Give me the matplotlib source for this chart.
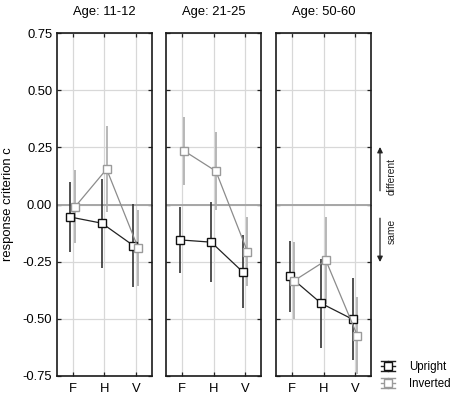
import matplotlib
matplotlib.use("Agg")
import matplotlib.pyplot as plt
import numpy as np
from matplotlib.legend_handler import HandlerBase
from matplotlib.lines import Line2D

plt.rcParams['font.family'] = ['Liberation Sans', 'DejaVu Sans']

ages = ['Age: 11-12', 'Age: 21-25', 'Age: 50-60']
conditions = ['F', 'H', 'V']
yticks = [-0.75, -0.50, -0.25, 0.00, 0.25, 0.50, 0.75]

upright_mean = [[-0.055, -0.082, -0.180],
                [-0.155, -0.165, -0.295],
                [-0.315, -0.433, -0.503]]
upright_ci = [[0.155, 0.195, 0.182],
              [0.143, 0.175, 0.160],
              [0.157, 0.195, 0.180]]
inverted_mean = [[-0.010, 0.155, -0.190],
                 [0.234, 0.146, -0.206],
                 [-0.333, -0.245, -0.575]]
inverted_ci = [[0.160, 0.190, 0.168],
               [0.148, 0.170, 0.150],
               [0.167, 0.190, 0.168]]

W, H = 454, 398
fig = plt.figure(figsize=(W / 100, H / 100), dpi=100)

lefts = [57, 166.3, 276.3]
pw = 94.5
top, bot = 33.3, 375.7
FS = 9.4
x = np.arange(len(conditions))
off = 0.075

axes = []
for i, age in enumerate(ages):
    ax = fig.add_axes([lefts[i] / W, 1 - bot / H, pw / W, (bot - top) / H])
    axes.append(ax)
    ax.set_xlim(-0.5, 2.5)
    ax.set_ylim(-0.75, 0.75)
    ax.set_xticks(x)
    ax.set_xticklabels(conditions, fontsize=FS)
    ax.set_yticks(yticks)
    if i == 0:
        ax.set_yticklabels(['%.2f' % v for v in yticks], fontsize=FS)
    else:
        ax.set_yticklabels([])
    ax.tick_params(direction='in', length=3, width=0.9, top=True, right=True,
                   color='#222222')
    ax.tick_params(axis='x', pad=5)
    ax.tick_params(axis='y', pad=3.5)
    ax.grid(True, color='#d8d8d8', lw=0.9)
    ax.set_axisbelow(True)
    ax.axhline(0, color='#a6a6a6', lw=1.4, zorder=1)
    for s in ax.spines.values():
        s.set_linewidth(1.2)
        s.set_color('#1a1a1a')
    ax.set_title(age, fontsize=FS, pad=13)

    um = np.array(upright_mean[i]); uc = np.array(upright_ci[i])
    im = np.array(inverted_mean[i]); ic = np.array(inverted_ci[i])
    ax.errorbar(x - off, um, yerr=uc, fmt='none', ecolor='#333333', elinewidth=1.2,
                capsize=0, zorder=3)
    ax.errorbar(x + off, im, yerr=ic, fmt='none', ecolor='#ababab', elinewidth=1.2,
                capsize=0, zorder=3)
    ax.plot(x - off, um, color='#222222', lw=0.9, marker='s', ms=5.6,
            mfc='white', mec='#111111', mew=1.0, zorder=4)
    ax.plot(x + off, im, color='#8c8c8c', lw=0.9, marker='s', ms=5.6,
            mfc='white', mec='#9a9a9a', mew=1.0, zorder=5)

axes[0].set_ylabel('response criterion c', fontsize=FS)
axes[0].yaxis.set_label_coords(-(57 - 14.5) / pw, 0.5)

# direction annotation
ax3 = axes[2]
tr = ax3.get_yaxis_transform()
xa = (380 - lefts[2]) / pw
xt = (392 - lefts[2]) / pw
ax3.annotate('', xy=(xa, 0.252), xytext=(xa, 0.06), xycoords=tr, textcoords=tr,
             arrowprops=dict(arrowstyle='-|>', color='#222222', lw=0.9,
                             mutation_scale=8, shrinkA=0, shrinkB=0),
             annotation_clip=False)
ax3.annotate('', xy=(xa, -0.252), xytext=(xa, -0.06), xycoords=tr, textcoords=tr,
             arrowprops=dict(arrowstyle='-|>', color='#222222', lw=0.9,
                             mutation_scale=8, shrinkA=0, shrinkB=0),
             annotation_clip=False)
ax3.text(xt, 0.123, 'different', transform=tr, rotation=90, fontsize=7.4,
         ha='center', va='center', color='#222222')
ax3.text(xt, -0.12, 'same', transform=tr, rotation=90, fontsize=7.4,
         ha='center', va='center', color='#222222')


class ErrHandler(HandlerBase):
    def create_artists(self, legend, orig_handle, xdescent, ydescent, width,
                       height, fontsize, trans):
        c = orig_handle.get_color()
        mec = orig_handle.get_markeredgecolor()
        x0, x1 = -xdescent, -xdescent + width
        y0, y1 = -ydescent, -ydescent + height
        ym = (y0 + y1) / 2
        xm = (x0 + x1) / 2
        arts = [Line2D([x0, x1], [y1, y1], color=c, lw=1.0),
                Line2D([x0, x1], [y0, y0], color=c, lw=1.0),
                Line2D([x0, x1], [ym, ym], color=c, lw=1.0),
                Line2D([xm, xm], [y0, y1], color=c, lw=1.0),
                Line2D([xm], [ym], marker='s', ms=5.6, mfc='white', mec=mec,
                       mew=1.0, ls='none')]
        for a in arts:
            a.set_transform(trans)
        return arts


LFS = 8.3
h1 = Line2D([], [], color='#222222', marker='s', mec='#111111')
h2 = Line2D([], [], color='#9a9a9a', marker='s', mec='#9a9a9a')
fig.legend([h1, h2], ['Upright', 'Inverted'], loc='lower left',
           bbox_to_anchor=(380.5 / W, 1 - 390 / H), frameon=False, fontsize=LFS,
           borderpad=0, borderaxespad=0, handlelength=1.3, handleheight=0.95,
           handletextpad=1.2, labelspacing=0.4,
           handler_map={Line2D: ErrHandler()})

fig.savefig('out.png', dpi=100)
